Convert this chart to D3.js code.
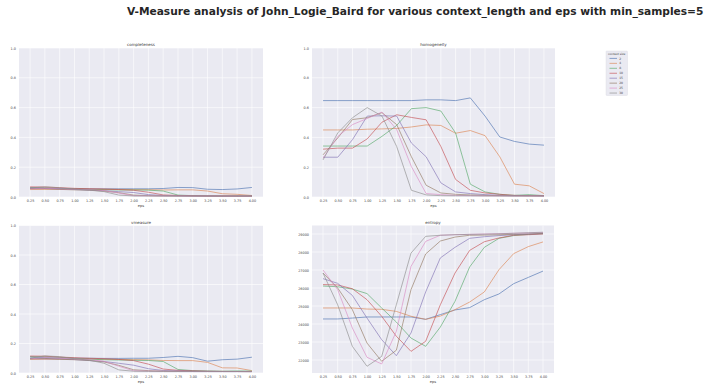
<!DOCTYPE html>
<html>
<head>
<meta charset="utf-8">
<script src="https://cdn.jsdelivr.net/npm/d3@7"></script>
<style>
  html, body { margin: 0; padding: 0; background: #ffffff; }
  svg { display: block; }
  text { font-family: "DejaVu Sans", sans-serif; }
</style>
</head>
<body>
<svg id="chart" width="707" height="387"></svg>
<script>
// eps values on the x axis
const eps = [0.25, 0.5, 0.75, 1.0, 1.25, 1.5, 1.75, 2.0, 2.25, 2.5, 2.75, 3.0, 3.25, 3.5, 3.75, 4.0];
const epsTickLabels = ["0.25","0.50","0.75","1.00","1.25","1.50","1.75","2.00","2.25","2.50","2.75","3.00","3.25","3.50","3.75","4.00"];

// context sizes (one line per size)
const contextSizes = ["2", "4", "8", "10", "15", "20", "25", "30"];

// completeness per context size
const completeness2  = [0.058,0.057,0.056,0.055,0.055,0.055,0.055,0.055,0.055,0.057,0.064,0.063,0.052,0.050,0.054,0.064];
const completeness4  = [0.050,0.051,0.052,0.053,0.053,0.052,0.051,0.050,0.049,0.047,0.048,0.048,0.040,0.022,0.018,0.010];
const completeness8  = [0.063,0.062,0.058,0.055,0.051,0.049,0.047,0.047,0.046,0.040,0.013,0.009,0.008,0.007,0.008,0.008];
const completeness10 = [0.068,0.067,0.063,0.058,0.055,0.053,0.050,0.045,0.032,0.014,0.010,0.008,0.007,0.007,0.006,0.006];
const completeness15 = [0.060,0.058,0.055,0.050,0.046,0.042,0.036,0.030,0.016,0.010,0.008,0.007,0.007,0.006,0.006,0.006];
const completeness20 = [0.056,0.056,0.051,0.048,0.046,0.040,0.029,0.013,0.009,0.008,0.007,0.007,0.006,0.006,0.006,0.006];
const completeness25 = [0.055,0.058,0.055,0.052,0.049,0.043,0.026,0.009,0.008,0.007,0.007,0.006,0.006,0.006,0.006,0.006];
const completeness30 = [0.061,0.068,0.062,0.053,0.046,0.036,0.013,0.007,0.007,0.006,0.006,0.006,0.006,0.006,0.006,0.006];

// homogeneity per context size
const homogeneity2  = [0.647,0.647,0.647,0.647,0.647,0.647,0.647,0.652,0.652,0.647,0.665,0.543,0.403,0.373,0.355,0.348];
const homogeneity4  = [0.450,0.450,0.450,0.455,0.457,0.460,0.470,0.484,0.480,0.428,0.446,0.412,0.270,0.086,0.075,0.023];
const homogeneity8  = [0.342,0.342,0.342,0.342,0.407,0.480,0.593,0.600,0.577,0.430,0.086,0.034,0.018,0.011,0.016,0.009];
const homogeneity10 = [0.321,0.328,0.328,0.390,0.502,0.552,0.534,0.518,0.339,0.118,0.045,0.027,0.018,0.011,0.009,0.009];
const homogeneity15 = [0.267,0.267,0.385,0.543,0.545,0.543,0.362,0.270,0.095,0.034,0.023,0.016,0.011,0.009,0.009,0.007];
const homogeneity20 = [0.283,0.396,0.520,0.532,0.566,0.486,0.270,0.079,0.027,0.018,0.014,0.011,0.009,0.008,0.008,0.007];
const homogeneity25 = [0.260,0.407,0.486,0.527,0.570,0.452,0.204,0.023,0.016,0.011,0.009,0.008,0.008,0.007,0.007,0.007];
const homogeneity30 = [0.249,0.430,0.532,0.600,0.543,0.339,0.045,0.014,0.009,0.008,0.008,0.007,0.007,0.007,0.007,0.007];

// v-measure per context size
const vmeasure2  = [0.109,0.104,0.101,0.100,0.100,0.099,0.099,0.100,0.100,0.105,0.113,0.104,0.080,0.090,0.094,0.107];
const vmeasure4  = [0.092,0.093,0.094,0.095,0.095,0.093,0.092,0.091,0.089,0.085,0.084,0.084,0.072,0.035,0.034,0.016];
const vmeasure8  = [0.110,0.110,0.106,0.100,0.094,0.090,0.088,0.086,0.085,0.078,0.024,0.016,0.014,0.012,0.014,0.013];
const vmeasure10 = [0.115,0.114,0.108,0.104,0.100,0.097,0.092,0.084,0.060,0.027,0.018,0.015,0.012,0.011,0.010,0.010];
const vmeasure15 = [0.098,0.096,0.096,0.091,0.084,0.078,0.066,0.053,0.029,0.017,0.014,0.012,0.011,0.010,0.010,0.010];
const vmeasure20 = [0.096,0.099,0.093,0.090,0.085,0.075,0.052,0.022,0.016,0.013,0.012,0.011,0.010,0.010,0.010,0.009];
const vmeasure25 = [0.096,0.105,0.101,0.096,0.091,0.080,0.046,0.015,0.013,0.012,0.011,0.010,0.010,0.010,0.010,0.010];
const vmeasure30 = [0.100,0.116,0.111,0.097,0.087,0.066,0.021,0.012,0.011,0.010,0.010,0.010,0.010,0.010,0.010,0.010];

// entropy per context size
const entropy2  = [24280,24280,24330,24390,24390,24390,24390,24260,24520,24780,24910,25350,25670,26240,26590,26940];
const entropy4  = [24890,24890,24890,24830,24815,24700,24430,24260,24440,24800,25220,25780,27020,27910,28300,28560];
const entropy8  = [26110,26070,25940,25690,24890,24110,23220,22760,23830,25260,27170,28260,28760,28910,28980,29020];
const entropy10 = [26190,26170,25960,25350,24430,23320,22480,23040,25070,26830,28090,28570,28780,28930,28960,29000];
const entropy15 = [26520,26260,25590,24330,23130,22240,23500,25780,27670,28260,28760,28850,28910,28960,29000,29020];
const entropy20 = [26830,26000,24800,22940,21930,22540,25910,27890,28610,28830,28930,28940,28960,28980,29000,29040];
const entropy25 = [27000,25910,23780,22150,21780,23590,27200,28590,28930,28960,28980,29000,29020,29040,29060,29080];
const entropy30 = [26830,25070,22760,21650,22200,25070,27940,28870,28930,28960,28980,28990,29010,29040,29070,29100];

const unitTicks = [0.0, 0.2, 0.4, 0.6, 0.8, 1.0];
const entropyTicks = [22000, 23000, 24000, 25000, 26000, 27000, 28000, 29000];

const palette = ["#4c72b0","#dd8452","#55a868","#c44e52","#8172b3","#937860","#da8bc3","#8c8c8c"];

const panels = [
  { title: "completeness", series: [completeness2,completeness4,completeness8,completeness10,completeness15,completeness20,completeness25,completeness30],
    box: { l: 19, r: 263, t: 48, b: 197 }, fixed: [0, 1], ticks: unitTicks, fmt: d3.format(".1f") },
  { title: "homogeneity", series: [homogeneity2,homogeneity4,homogeneity8,homogeneity10,homogeneity15,homogeneity20,homogeneity25,homogeneity30],
    box: { l: 312, r: 555, t: 48, b: 197 }, fixed: [0, 1], ticks: unitTicks, fmt: d3.format(".1f") },
  { title: "vmeasure", series: [vmeasure2,vmeasure4,vmeasure8,vmeasure10,vmeasure15,vmeasure20,vmeasure25,vmeasure30],
    box: { l: 19, r: 263, t: 225.5, b: 373 }, fixed: [0, 1], ticks: unitTicks, fmt: d3.format(".1f") },
  { title: "entropy", series: [entropy2,entropy4,entropy8,entropy10,entropy15,entropy20,entropy25,entropy30],
    box: { l: 312, r: 554, t: 225.5, b: 373 }, fixed: null, ticks: entropyTicks, fmt: d3.format("d") }
];

const svg = d3.select("#chart");

svg.append("text")
  .attr("x", 127).attr("y", 15)
  .attr("font-size", 10.65).attr("font-weight", "bold").attr("fill", "#262626")
  .text("V-Measure analysis of John_Logie_Baird for various context_length and eps with min_samples=5");

const xPad = (eps[eps.length - 1] - eps[0]) * 0.05;

panels.forEach(p => {
  const { l, r, t, b } = p.box;
  const x = d3.scaleLinear().domain([eps[0] - xPad, eps[eps.length - 1] + xPad]).range([l, r]);
  let yDomain;
  if (p.fixed) {
    yDomain = p.fixed;
  } else {
    const all = p.series.flat();
    const lo = d3.min(all), hi = d3.max(all), pad = (hi - lo) * 0.05;
    yDomain = [lo - pad, hi + pad];
  }
  const y = d3.scaleLinear().domain(yDomain).range([b, t]);

  const g = svg.append("g");
  g.append("rect").attr("x", l).attr("y", t).attr("width", r - l).attr("height", b - t).attr("fill", "#eaeaf2");

  // grid lines
  g.append("g").selectAll("line").data(eps).join("line")
    .attr("x1", d => x(d)).attr("x2", d => x(d)).attr("y1", t).attr("y2", b)
    .attr("stroke", "#ffffff").attr("stroke-width", 0.6);
  g.append("g").selectAll("line").data(p.ticks).join("line")
    .attr("x1", l).attr("x2", r).attr("y1", d => y(d)).attr("y2", d => y(d))
    .attr("stroke", "#ffffff").attr("stroke-width", 0.6);

  // x axis labels
  const xAxis = d3.axisBottom(x).tickValues(eps).tickSize(0).tickPadding(3)
    .tickFormat((d, i) => epsTickLabels[i]);
  const gx = g.append("g").attr("transform", `translate(0,${b})`).call(xAxis);
  gx.select(".domain").remove();
  gx.selectAll("text").attr("font-size", 3.4).attr("fill", "#444").attr("font-family", "DejaVu Sans");

  // y axis labels
  const yAxis = d3.axisLeft(y).tickValues(p.ticks).tickSize(0).tickPadding(3).tickFormat(p.fmt);
  const gy = g.append("g").attr("transform", `translate(${l},0)`).call(yAxis);
  gy.select(".domain").remove();
  gy.selectAll("text").attr("font-size", 3.4).attr("fill", "#444").attr("font-family", "DejaVu Sans");

  g.append("text").attr("x", (l + r) / 2).attr("y", b + 9.5).attr("text-anchor", "middle")
    .attr("font-size", 3.6).attr("fill", "#444").text("eps");
  g.append("text").attr("x", (l + r) / 2).attr("y", t - 2).attr("text-anchor", "middle")
    .attr("font-size", 4).attr("fill", "#333").text(p.title);

  const line = d3.line().x((d, i) => x(eps[i])).y(d => y(d));
  g.append("g").selectAll("path").data(p.series).join("path")
    .attr("d", line).attr("fill", "none")
    .attr("stroke", (d, i) => palette[i]).attr("stroke-width", 0.8).attr("stroke-opacity", 0.8);
});

// legend
const lg = svg.append("g");
lg.append("rect").attr("x", 606).attr("y", 51).attr("width", 21.5).attr("height", 44.5)
  .attr("fill", "#eaeaf2").attr("stroke", "#d8d8e0").attr("stroke-width", 0.4).attr("rx", 0.8);
lg.append("text").attr("x", 616.7).attr("y", 54.8).attr("text-anchor", "middle")
  .attr("font-size", 2.9).attr("fill", "#444").text("context size");
contextSizes.forEach((c, i) => {
  const yy = 58.4 + i * 4.95;
  lg.append("line").attr("x1", 609.5).attr("x2", 617).attr("y1", yy).attr("y2", yy)
    .attr("stroke", palette[i]).attr("stroke-width", 0.8).attr("stroke-opacity", 0.8);
  lg.append("text").attr("x", 619.2).attr("y", yy + 1.1)
    .attr("font-size", 3).attr("fill", "#444").text(c);
});
</script>
</body>
</html>
